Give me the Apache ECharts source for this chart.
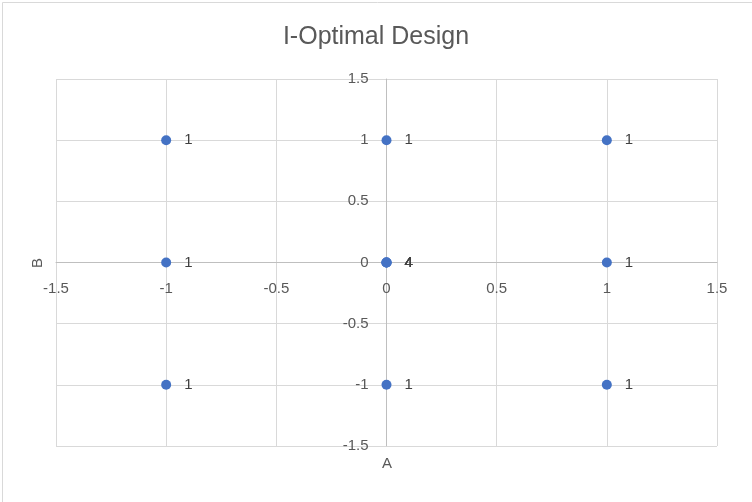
<!DOCTYPE html>
<html>
<head>
<meta charset="utf-8">
<script src="https://cdn.jsdelivr.net/npm/echarts@6/dist/echarts.min.js"></script>
<style>
html,body{margin:0;padding:0;background:#fff;}
#chart{width:752px;height:502px;}
</style>
</head>
<body>
<div id="chart"></div>
<script>
// Design points (A, B) and their replicate counts (center point replicated 4 times)
const pointA = [-1, -1, -1, 0, 0, 0, 0, 0, 0, 1, 1, 1];
const pointB = [1, 0, -1, 1, 0, 0, 0, 0, -1, 1, 0, -1];
const pointCount = [1, 1, 1, 1, 4, 4, 4, 4, 1, 1, 1, 1];
const axisTicks = [-1.5, -1, -0.5, 0, 0.5, 1, 1.5];

const FONT = '"Liberation Sans", "DejaVu Sans", sans-serif';
const seriesData = pointA.map((a, i) => ({ value: [a, pointB[i]], count: pointCount[i] }));

const GRID = { left: 56, top: 79, width: 661, height: 367 };

const chart = echarts.init(document.getElementById('chart'));
chart.setOption({
  animation: false,
  backgroundColor: '#fff',
  title: {
    text: 'I-Optimal Design',
    left: 'center',
    top: 20,
    textStyle: { fontFamily: FONT, fontSize: 25, fontWeight: 'normal', color: '#595959' }
  },
  grid: Object.assign({ containLabel: false }, GRID),
  xAxis: {
    type: 'value',
    position: 'bottom',
    offset: -GRID.height / 2,
    min: axisTicks[0], max: axisTicks[axisTicks.length - 1], interval: 0.5,
    axisLine: { onZero: false, lineStyle: { color: '#bfbfbf', width: 1 } },
    axisTick: { show: false },
    axisLabel: { margin: 19, fontFamily: FONT, fontSize: 15, color: '#595959' },
    splitLine: { show: true, lineStyle: { color: '#d9d9d9', width: 1 } }
  },
  yAxis: {
    type: 'value',
    position: 'left',
    offset: -GRID.width / 2,
    min: axisTicks[0], max: axisTicks[axisTicks.length - 1], interval: 0.5,
    axisLine: { onZero: false, lineStyle: { color: '#bfbfbf', width: 1 } },
    axisTick: { show: false },
    axisLabel: { margin: 18, fontFamily: FONT, fontSize: 15, color: '#595959' },
    splitLine: { show: true, lineStyle: { color: '#d9d9d9', width: 1 } }
  },
  graphic: [
    { type: 'rect', left: 0, top: 0, silent: true, z: -10,
      shape: { x: 0.5, y: 0.5, width: 750, height: 500 },
      style: { fill: 'none', stroke: '#d9d9d9', lineWidth: 1 } },
    { type: 'text', x: 387, y: 464, silent: true,
      style: { text: 'A', fontFamily: FONT, fontSize: 15, fill: '#595959', align: 'center', verticalAlign: 'middle' } },
    { type: 'text', x: 38, y: 263, rotation: Math.PI / 2, silent: true,
      style: { text: 'B', fontFamily: FONT, fontSize: 15, fill: '#595959', align: 'center', verticalAlign: 'middle' } }
  ],
  series: [{
    type: 'scatter',
    symbol: 'circle',
    symbolSize: 10,
    itemStyle: { color: '#4472c4', opacity: 1 },
    data: seriesData,
    label: {
      show: true,
      position: 'right',
      distance: 13,
      formatter: p => String(p.data.count),
      fontFamily: FONT, fontSize: 15, color: '#404040'
    },
    labelLayout: { hideOverlap: false }
  }]
});
</script>
</body>
</html>
